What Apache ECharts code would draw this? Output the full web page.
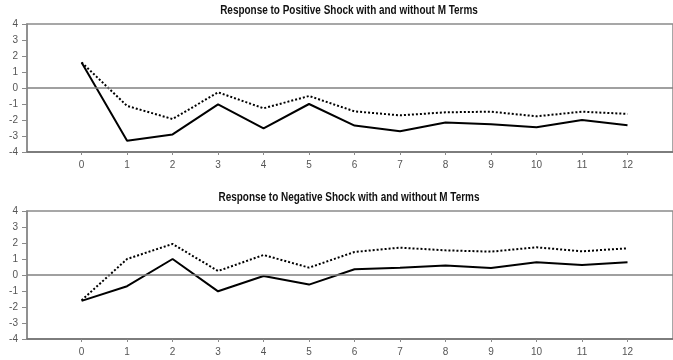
<!DOCTYPE html>
<html>
<head>
<meta charset="utf-8">
<script src="https://cdn.jsdelivr.net/npm/echarts@6/dist/echarts.min.js"></script>
<style>
  html, body { margin: 0; padding: 0; background: #fff; }
  #chart { width: 673px; height: 360px; }
</style>
</head>
<body>
<div id="chart"></div>
<script>
// Impulse-response horizons
const horizons = [0, 1, 2, 3, 4, 5, 6, 7, 8, 9, 10, 11, 12];
const yTicks = [-4, -3, -2, -1, 0, 1, 2, 3, 4];

const titles = [
  'Response to Positive Shock with and without M Terms',
  'Response to Negative Shock with and without M Terms'
];

// Positive shock: with M terms (solid) and without (dotted)
const posWithM = [1.6, -3.3, -2.9, -1.02, -2.52, -1.0, -2.35, -2.7, -2.15, -2.27, -2.46, -2.0, -2.33];
const posWithoutM = [1.6, -1.12, -1.94, -0.27, -1.27, -0.5, -1.46, -1.71, -1.52, -1.48, -1.77, -1.48, -1.62];

// Negative shock: with M terms (solid) and without (dotted)
const negWithM = [-1.62, -0.7, 1.0, -1.02, -0.06, -0.6, 0.36, 0.46, 0.6, 0.44, 0.79, 0.63, 0.79];
const negWithoutM = [-1.58, 1.0, 1.94, 0.25, 1.25, 0.46, 1.44, 1.71, 1.54, 1.46, 1.73, 1.48, 1.67];

const font = '"Liberation Sans", Arial, sans-serif';
const pair = arr => horizons.map((h, i) => [h, arr[i]]);

const grids = [
  { left: 27, right: 0, top: 24, height: 128, show: true, borderColor: '#8a8a8a', borderWidth: 1.5 },
  { left: 27, right: 0, top: 211, height: 128, show: true, borderColor: '#8a8a8a', borderWidth: 1.5 }
];

const xAxes = [0, 1].map(g => ({
  type: 'value', gridIndex: g, min: -1.2, max: 13,
  axisLine: { show: true, onZero: false, lineStyle: { color: '#707070', width: 1.5 } },
  axisTick: { show: true, customValues: horizons, length: 3, lineStyle: { color: '#8a8a8a' } },
  splitLine: { show: false },
  axisLabel: {
    customValues: horizons, margin: 8,
    fontFamily: font, fontSize: 10, color: '#555'
  }
}));

const yAxes = [0, 1].map(g => ({
  type: 'value', gridIndex: g, min: -4, max: 4, interval: 1,
  axisLine: { show: true, onZero: false, lineStyle: { color: '#8a8a8a', width: 1.5 } },
  axisTick: { show: true, length: 5, lineStyle: { color: '#8a8a8a' } },
  splitLine: { show: false },
  axisLabel: { margin: 9, fontFamily: font, fontSize: 10, color: '#555' }
}));

const zeroLine = {
  silent: true, symbol: 'none', label: { show: false },
  lineStyle: { color: '#808080', width: 1.5, type: 'solid' },
  data: [{ yAxis: 0 }]
};

function lineSeries(data, g, dotted, withZero) {
  const s = {
    type: 'line', xAxisIndex: g, yAxisIndex: g,
    data: pair(data), showSymbol: false, symbol: 'none', z: 3,
    lineStyle: { color: '#000', width: 2, type: dotted ? [2, 2] : 'solid' }
  };
  if (withZero) s.markLine = zeroLine;
  return s;
}

// Panel titles: condensed bold heading centred over each plot
const titleGraphics = titles.map((t, i) => ({
  type: 'text', x: 349, y: i === 0 ? 11 : 198, scaleX: 0.83,
  style: {
    text: t, fontFamily: font, fontSize: 12, fontWeight: 'bold', fill: '#111',
    align: 'center', verticalAlign: 'middle'
  }
}));

const chart = echarts.init(document.getElementById('chart'));
chart.setOption({
  animation: false,
  backgroundColor: '#fff',
  graphic: titleGraphics,
  grid: grids,
  xAxis: xAxes,
  yAxis: yAxes,
  series: [
    lineSeries(posWithoutM, 0, true, true),
    lineSeries(posWithM, 0, false, false),
    lineSeries(negWithoutM, 1, true, true),
    lineSeries(negWithM, 1, false, false)
  ]
});
</script>
</body>
</html>
